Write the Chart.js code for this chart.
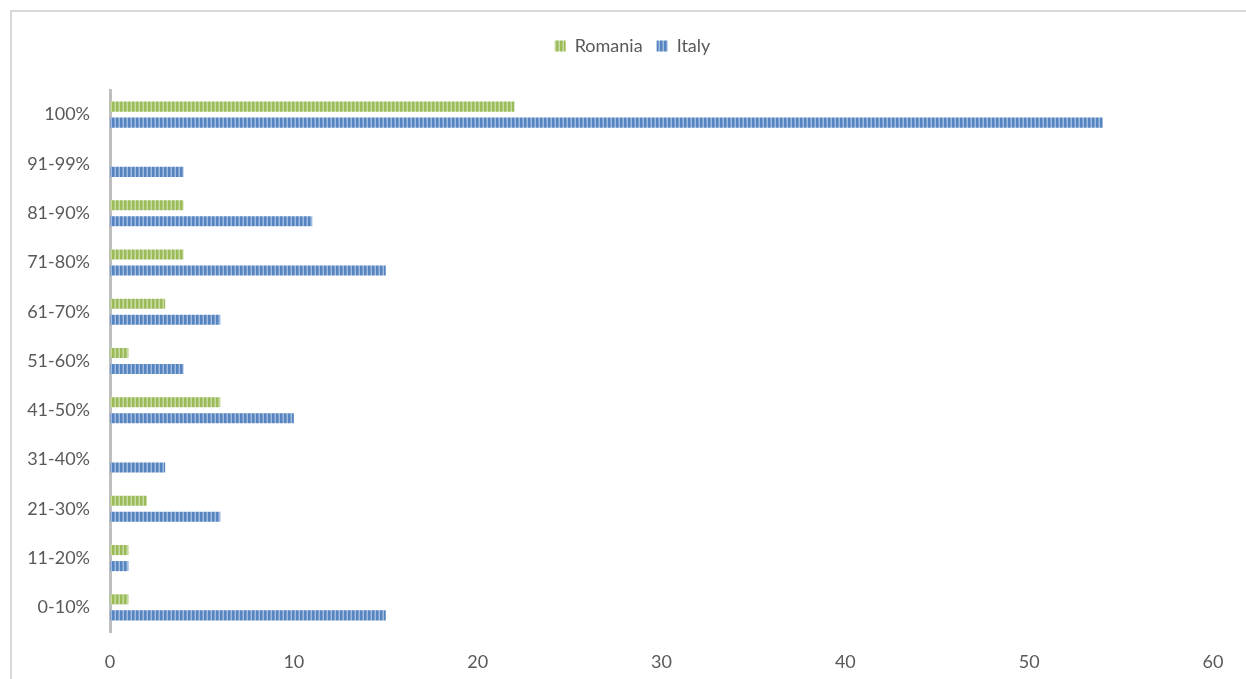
<!DOCTYPE html>
<html>
<head>
<meta charset="utf-8">
<script src="https://cdn.jsdelivr.net/npm/chart.js@4/dist/chart.umd.min.js"></script>
<style>
  body { margin: 0; background: #fff; }
  #frame {
    position: absolute; left: 10px; top: 10px; right: 0; bottom: 0;
    border-left: 2px solid #d9d9d9; border-top: 2px solid #d9d9d9;
  }
  #wrap { position: absolute; left: 0; top: 0; width: 1246px; height: 679px; }
</style>
</head>
<body>
<div id="frame"></div>
<div id="wrap"><canvas id="chart"></canvas></div>
<script>
// score bands, top row first
const categories = ["100%", "91-99%", "81-90%", "71-80%", "61-70%", "51-60%", "41-50%", "31-40%", "21-30%", "11-20%", "0-10%"];
const romania = [22, 0, 4, 4, 3, 1, 6, 0, 2, 1, 1];
const italy = [54, 4, 11, 15, 6, 4, 10, 3, 6, 1, 15];
const xTicks = [0, 10, 20, 30, 40, 50, 60];

// vertical stripe fill like the office "dark vertical" pattern
function stripes(dark, mid, light) {
    const c = document.createElement("canvas");
    c.width = 4;
    c.height = 4;
    const g = c.getContext("2d");
    g.fillStyle = dark;
    g.fillRect(0, 0, 2, 4);
    g.fillStyle = mid;
    g.fillRect(2, 0, 1, 4);
    g.fillStyle = light;
    g.fillRect(3, 0, 1, 4);
    return g.createPattern(c, "repeat");
}

const greenFill = stripes("#9bbb59", "#b2cb7f", "#c8daa5");
const blueFill = stripes("#5584c0", "#7a9fcf", "#a2bde0");

// fixed legend block height, and nudge the legend a bit right of the canvas centre
const legendPlace = {
    id: "legendPlace",
    afterInit(chart) {
        const lg = chart.legend;
        if (!lg) return;
        const fit = lg.fit.bind(lg);
        lg.fit = function () {
            fit();
            this.height = 67;
        };
    },
    afterLayout(chart) {
        const lg = chart.legend;
        if (!lg) return;
        lg.left += 20;
        lg.right += 20;
    }
};

const textColor = "#595959";
const font = { family: "Lato", size: 18 };

new Chart(document.getElementById("chart"), {
    type: "bar",
    data: {
        labels: categories,
        datasets: [
            { label: "Romania", data: romania, backgroundColor: greenFill, borderWidth: 0 },
            { label: "Italy", data: italy, backgroundColor: blueFill, borderWidth: 0 }
        ]
    },
    options: {
        indexAxis: "y",
        responsive: true,
        maintainAspectRatio: false,
        animation: false,
        categoryPercentage: 0.65,
        barPercentage: 0.63,
        layout: { padding: { left: 12, right: 33, top: 23, bottom: 0 } },
        plugins: {
            legend: {
                position: "top",
                labels: { color: textColor, font: font, boxWidth: 11, boxHeight: 11, padding: 14 }
            },
            tooltip: { enabled: false }
        },
        scales: {
            x: {
                min: 0,
                max: 60,
                afterBuildTicks(scale) {
                    scale.ticks = xTicks.map(v => ({ value: v }));
                },
                afterFit(scale) { scale.height = 47; },
                grid: { display: false, drawTicks: false },
                border: { display: false },
                ticks: { color: textColor, font: font, padding: 19 }
            },
            y: {
                afterFit(scale) { scale.width = 98; },
                grid: { display: false, drawTicks: false },
                border: { display: true, color: "#bfbfbf", width: 3 },
                ticks: { color: textColor, font: font, padding: 20 }
            }
        }
    },
    plugins: [legendPlace]
});
</script>
</body>
</html>
